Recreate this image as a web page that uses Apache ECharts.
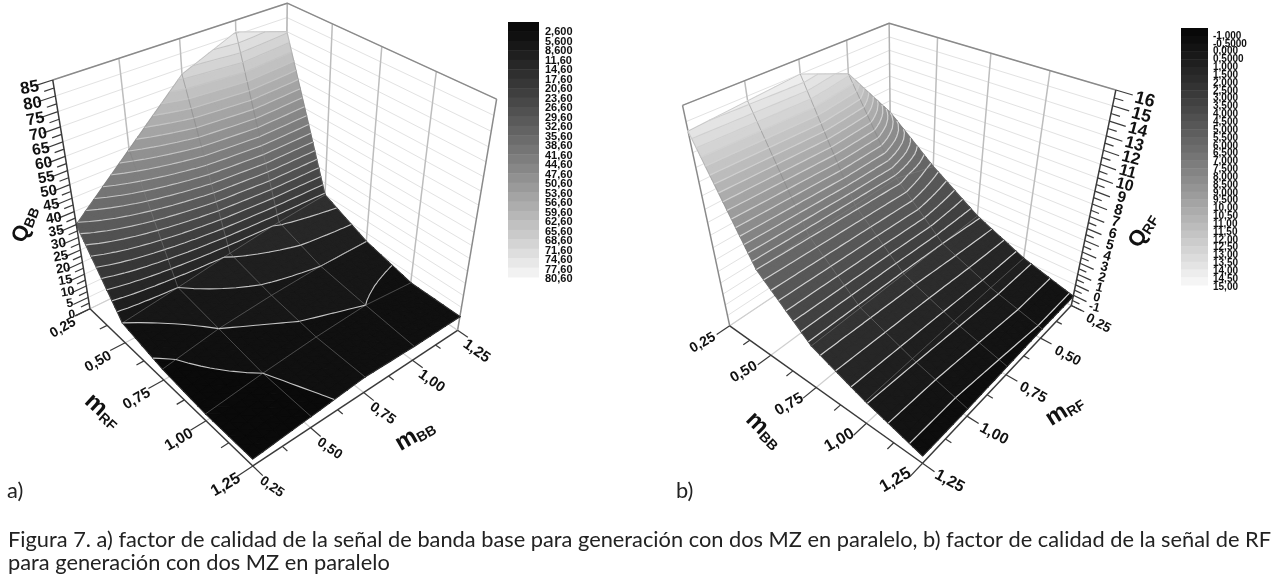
<!DOCTYPE html>
<html><head><meta charset="utf-8">
<style>html,body{margin:0;padding:0;background:#fff}#c{width:1277px;height:586px}</style>
<script src="https://cdn.jsdelivr.net/npm/echarts@6/dist/echarts.min.js"></script>
</head><body><div id="c"></div>
<script>
// ---------- data ----------
const mTickLabels = ['0,25','0,50','0,75','1,00','1,25'];
// Q_BB: rows mRF 0.25..1.25, columns mBB 0.25..1.25
const qbbRF025 = [35, 54, 73, 81, 75];
const qbbRF050 = [8.6, 11.6, 15, 18, 20];
const qbbRF075 = [4.7, 8.6, 10.5, 11.6, 11.6];
const qbbRF100 = [3, 5.6, 7.5, 8.6, 6.5];
const qbbRF125 = [3, 4.8, 6.7, 6, 6];
// Q_RF: rows mBB 0.25..1.25, columns mRF 1.25..0.25
const qrfBB025 = [14.4, 14.7, 15, 13.6, 9];
const qrfBB050 = [6.5, 6.6, 6.7, 6.8, 5.8];
const qrfBB075 = [2.8, 2.85, 2.9, 3, 3.1];
const qrfBB100 = [1.05, 1.1, 1.15, 1.2, 1.2];
const qrfBB125 = [-0.3, -0.3, -0.2, -0.1, -0.1];
const ticksQBB = [0,5,10,15,20,25,30,35,40,45,50,55,60,65,70,75,80,85];
const ticksQRF = [-1,0,1,2,3,4,5,6,7,8,9,10,11,12,13,14,15,16];
const levelsQBB = ['2,600','5,600','8,600','11,60','14,60','17,60','20,60','23,60','26,60','29,60','32,60','35,60','38,60','41,60','44,60','47,60','50,60','53,60','56,60','59,60','62,60','65,60','68,60','71,60','74,60','77,60','80,60'];
const levelsQRF = ['-1,000','-0,5000','0,000','0,5000','1,000','1,500','2,000','2,500','3,000','3,500','4,000','4,500','5,000','5,500','6,000','6,500','7,000','7,500','8,000','8,500','9,000','9,500','10,00','10,50','11,00','11,50','12,00','12,50','13,00','13,50','14,00','14,50','15,00'];
const captionLine1 = 'Figura 7. a) factor de calidad de la señal de banda base para generación con dos MZ en paralelo, b) factor de calidad de la señal de RF';
const captionLine2 = 'para generación con dos MZ en paralelo';

// ---------- 3D view calibration: [u, v, w, screenX, screenY] ----------
const viewA = [[0,0,0,88,308],[1,0,0,253,468],[1,1,0,458,330],[0,0,1,53,79],[0,1,1,287,2],[1,1,1,497,98],
 [.25,0,0,127,345],[.5,0,0,165,378],[.75,0,0,207,420],[1,.25,0,308,427],[1,.5,0,363,393],[1,.75,0,413,360],
 [0,.25,1,118,58],[0,.5,1,180,40],[0,.75,1,236,20],[.25,1,1,332,25],[.5,1,1,382,47],[.75,1,1,436,72]];
const viewB = [[0,0,0,728,326],[1,0,0,922,463],[1,1,0,1072,307],[0,0,1,682,105],[0,1,1,889,23],[1,1,1,1116,89],
 [.25,0,0,772,356],[.5,0,0,817,387],[.75,0,0,867,425],[1,.25,0,967,415],[1,.5,0,1005,375],[1,.75,0,1040,337],
 [0,.25,0,777,293],[0,.25,1,745,81],[0,.5,1,799,60],[0,.75,1,847,40],[.25,1,1,937,38],[.5,1,1,991,53],[.75,1,1,1050,71]];

function fitView(pts){
  const n=11, A=Array.from({length:n},()=>new Array(n+1).fill(0));
  const add=(r,b)=>{for(let i=0;i<n;i++){for(let j=0;j<n;j++)A[i][j]+=r[i]*r[j];A[i][n]+=r[i]*b;}};
  pts.forEach(([u,v,w,x,y])=>{x/=1000;y/=1000;
    add([u,v,w,1,0,0,0,0,-x*u,-x*v,-x*w],x);
    add([0,0,0,0,u,v,w,1,-y*u,-y*v,-y*w],y);});
  for(let c=0;c<n;c++){let p=c;for(let r=c+1;r<n;r++)if(Math.abs(A[r][c])>Math.abs(A[p][c]))p=r;
    [A[c],A[p]]=[A[p],A[c]];
    for(let r=0;r<n;r++)if(r!==c){const f=A[r][c]/A[c][c];for(let k=c;k<=n;k++)A[r][k]-=f*A[c][k];}}
  const p=A.map((r,i)=>r[n]/r[i]);
  return (u,v,w)=>{const d=p[8]*u+p[9]*v+p[10]*w+1;
    return [1000*(p[0]*u+p[1]*v+p[2]*w+p[3])/d,1000*(p[4]*u+p[5]*v+p[6]*w+p[7])/d];};
}
const num=s=>parseFloat(s.replace(',','.'));
const gray=(i,n,lo,hi)=>{const g=Math.round(lo+(hi-lo)*Math.pow(i/(n-1),1.12));return 'rgb('+g+','+g+','+g+')';};

function clipHalf(poly,lim,above){
  const out=[];
  for(let i=0;i<poly.length;i++){
    const a=poly[i],b=poly[(i+1)%poly.length];
    const da=above?a[2]-lim:lim-a[2],db=above?b[2]-lim:lim-b[2];
    if(da>=0)out.push(a);
    if(da*db<0){const t=da/(da-db);out.push([a[0]+(b[0]-a[0])*t,a[1]+(b[1]-a[1])*t,a[2]+(b[2]-a[2])*t]);}
  }
  return out;
}
// join short contour pieces that share end points into longer runs
function chain(segs){
  const key=p=>p[0].toFixed(6)+'_'+p[1].toFixed(6), runs=[], left=segs.slice();
  while(left.length){
    const run=left.pop().slice();
    let grew=true;
    while(grew){
      grew=false;
      for(let k=left.length-1;k>=0;k--){
        const s=left[k],h=key(run[0]),t=key(run[run.length-1]);
        if(key(s[0])===t){run.push(s[1]);}
        else if(key(s[1])===t){run.push(s[0]);}
        else if(key(s[0])===h){run.unshift(s[1]);}
        else if(key(s[1])===h){run.unshift(s[0]);}
        else continue;
        left.splice(k,1);grew=true;
      }
    }
    runs.push(run);
  }
  return runs;
}
const RAD=Math.PI/180, FONT='"Liberation Sans", Arial, sans-serif', SUB=6, EPS=1e-7;

function makeChart(c){
  const P=fitView(c.view), zw=q=>(q-c.zMin)/(c.zMax-c.zMin);
  const levels=c.levels.map(num), nL=levels.length;
  const line=(api,pts,stroke,lw)=>({type:'polyline',shape:{points:pts.map(p=>api.coord(p))},style:{stroke,lineWidth:lw,fill:null,lineJoin:'round'},silent:true});
  const seg=(api,a,b,stroke,lw)=>line(api,[P(...a),P(...b)],stroke,lw);
  const sc=q=>P(q[0],q[1],zw(q[2]));
  const cellTris=(i,j)=>{
    const g=c.grid,tris=[];
    const at=(s,t)=>{const q=(1-s)*(1-t)*g[i][j]+s*(1-t)*g[i+1][j]+s*t*g[i+1][j+1]+(1-s)*t*g[i][j+1];return [(i+s)/4,(j+t)/4,q];};
    for(let a=0;a<SUB;a++)for(let b=0;b<SUB;b++){
      const p00=at(a/SUB,b/SUB),p10=at((a+1)/SUB,b/SUB),p11=at((a+1)/SUB,(b+1)/SUB),p01=at(a/SUB,(b+1)/SUB);
      tris.push([p00,p10,p11],[p00,p11,p01]);
    }
    return tris;
  };

  const frame={type:'custom',coordinateSystem:'cartesian2d',silent:true,z:2,data:[[0]],renderItem:(p,api)=>{
    const ch=[];
    c.ticks.forEach(t=>{const w=zw(t);ch.push(line(api,[P(0,0,w),P(0,1,w),P(1,1,w)],'#e2e2e2',1));});
    [.25,.5,.75].forEach(f=>{
      ch.push(seg(api,[0,f,0],[0,f,1],'#bdbdbd',1.5));
      ch.push(seg(api,[f,1,0],[f,1,1],'#bdbdbd',1.5));
      ch.push(seg(api,[f,0,0],[f,1,0],'#cfcfcf',1.2));
      ch.push(seg(api,[0,f,0],[1,f,0],'#cfcfcf',1.2));
    });
    ch.push(seg(api,[0,1,0],[0,1,1],'#b0b0b0',1.5));
    ch.push(line(api,[P(0,0,1),P(0,1,1),P(1,1,1)],'#8a8a8a',1.5));
    ch.push(seg(api,c.grayEdge[0],c.grayEdge[1],'#8a8a8a',1.5));
    ch.push(seg(api,[0,1,0],[1,1,0],'#cfcfcf',1.2));
    ch.push(seg(api,[0,0,0],[0,1,0],'#cfcfcf',1.2));
    return {type:'group',children:ch};
  },clip:false};

  const cells=[];
  for(let i=0;i<4;i++)for(let j=3;j>=0;j--)cells.push([i,j]);
  const surface={type:'custom',coordinateSystem:'cartesian2d',silent:true,z:3,data:cells,clip:false,renderItem:(p,api)=>{
    const ch=[];
    cellTris(api.value(0),api.value(1)).forEach(tri=>{
      const lo=Math.min(tri[0][2],tri[1][2],tri[2][2]),hi=Math.max(tri[0][2],tri[1][2],tri[2][2]);
      for(let b=0;b<nL;b++){
        if(b<nL-1&&levels[b+1]<lo)continue;
        if(b>0&&levels[b]>hi)continue;
        let poly=tri;
        if(b>0)poly=clipHalf(poly,levels[b],true);
        if(b<nL-1&&poly.length)poly=clipHalf(poly,levels[b+1],false);
        if(poly.length>2){
          const col=gray(b,nL,c.grayLo,c.grayHi);
          ch.push({type:'polygon',shape:{points:poly.map(q=>api.coord(sc(q)))},style:{fill:col,stroke:col,lineWidth:1.3,lineJoin:'round'},silent:true});
        }
      }
    });
    return {type:'group',children:ch};
  }};
  const contours={type:'custom',coordinateSystem:'cartesian2d',silent:true,z:4,data:cells,clip:false,renderItem:(p,api)=>{
    const i=api.value(0),j=api.value(1),g=c.grid,ch=[];
    const corner=(a,b)=>[a/4,b/4,g[a][b]];
    const cs=[corner(i,j),corner(i+1,j),corner(i+1,j+1),corner(i,j+1)];
    for(let t=0;t<4;t++)ch.push(line(api,[sc(cs[t]),sc(cs[(t+1)%4])],'rgba(130,130,130,0.3)',1));
    const tris=cellTris(i,j);
    levels.forEach(l0=>{
      const l=l0+EPS,segs=[];
      tris.forEach(tri=>{
        const hits=[];
        for(let e=0;e<3;e++){const a=tri[e],b=tri[(e+1)%3];
          if((a[2]-l)*(b[2]-l)<0){const s=(l-a[2])/(b[2]-a[2]);hits.push([a[0]+(b[0]-a[0])*s,a[1]+(b[1]-a[1])*s,l]);}}
        if(hits.length===2)segs.push(hits);
      });
      chain(segs).forEach(run=>ch.push(line(api,run.map(sc),c.contour,c.contourW)));
    });
    return {type:'group',children:ch};
  }};

  const axes={type:'custom',coordinateSystem:'cartesian2d',silent:true,z:5,data:[[0]],clip:false,renderItem:(p,api)=>{
    const ch=[],dark='#3a3a3a';
    const txt=(s,pos,size,rot,extra)=>({type:'text',x:pos[0],y:pos[1],rotation:rot*RAD,silent:true,
      style:Object.assign({text:s,fontFamily:FONT,fontWeight:'bold',fontSize:size,fill:'#111',align:'center',verticalAlign:'middle'},extra||{})});
    const off=(q,d)=>{const s=api.coord(q);return [s[0]+d[0],s[1]+d[1]];};
    ch.push(seg(api,[0,0,0],[1,0,0],dark,1.5));
    ch.push(seg(api,[1,0,0],[1,1,0],dark,1.5));
    ch.push(seg(api,c.zAxisAt(0),c.zAxisAt(1),dark,1.5));
    for(let k=0;k<=8;k++){const f=k/8,len=k%2?.5:1;
      ch.push(seg(api,[f,0,0],[f,-.065*len,0],dark,1.2));
      ch.push(seg(api,[1,f,0],[1+.05*len,f,0],dark,1.2));
    }
    c.ticks.forEach((t,idx)=>{
      const a=c.zAxisAt(zw(t));
      ch.push(seg(api,a,c.zTick(a,1),dark,1.2));
      if(idx<c.ticks.length-1){const m=c.zAxisAt(zw((t+c.ticks[idx+1])/2));ch.push(seg(api,m,c.zTick(m,.55),dark,1.2));}
      const fs=c.zFont[0]+(c.zFont[1]-c.zFont[0])*idx/(c.ticks.length-1);
      ch.push(txt(String(t),off(P(...a),c.zOff(idx/(c.ticks.length-1))),fs,c.zRot));
    });
    mTickLabels.forEach((s,k)=>{
      const f=k/4;
      ch.push(txt(c.uLabel(s,k),off(P(f,0,0),c.uOff),c.uFont[0]+(c.uFont[1]-c.uFont[0])*f,c.uRot));
      const lab=c.vLabel(s,k);
      ch.push(txt(lab,off(P(1,f,0),c.vOff),c.vFont[0]+(c.vFont[1]-c.vFont[0])*f,c.vRot));
    });
    c.titles.forEach(t=>{
      ch.push(txt('{m|'+t.big+'}{s|'+t.sub+'}',off(P(...t.at),t.off),24,t.rot,{rich:{
        m:{fontFamily:FONT,fontSize:t.bigSize,fontWeight:'bold',fill:'#111',verticalAlign:'bottom',lineHeight:t.bigSize+6},
        s:{fontFamily:FONT,fontSize:t.subSize,fontWeight:'bold',fill:'#111',verticalAlign:'bottom',lineHeight:t.subSize}}}));
    });
    return {type:'group',children:ch};
  }};

  const legend={type:'custom',coordinateSystem:'cartesian2d',silent:true,z:5,clip:false,data:c.levels.map((s,i)=>[i]),renderItem:(p,api)=>{
    const i=api.value(0),L=c.legend,h=L.h/nL,col=gray(i,nL,c.grayLo,c.grayHi);
    const a=api.coord([L.x,L.y+i*h]),b=api.coord([L.x+L.w,L.y+(i+1)*h]);
    const ty=api.coord([L.tx,L.ty+i*L.dy]);
    return {type:'group',children:[
      {type:'rect',shape:{x:a[0],y:a[1],width:b[0]-a[0],height:b[1]-a[1]+.5},style:{fill:col},silent:true},
      {type:'text',x:ty[0],y:ty[1],silent:true,style:{text:c.levels[i],fontFamily:FONT,fontWeight:'bold',fontSize:L.fs,fill:'#111',align:'left',verticalAlign:'middle'}}
    ]};
  }};
  return [frame,surface,contours,axes,legend];
}

const chartA={view:viewA,zMin:0,zMax:85,ticks:ticksQBB,levels:levelsQBB,grid:[qbbRF025,qbbRF050,qbbRF075,qbbRF100,qbbRF125],
  grayLo:10,grayHi:242,contour:'#c4c4c4',contourW:1.1,
  grayEdge:[[1,1,0],[1,1,1]],zAxisAt:w=>[0,0,w],zTick:(a,l)=>[0,-.065*l,a[2]],
  zFont:[12,17],zRot:10,zOff:f=>[-18-5*f,6+2*f],
  uLabel:s=>s,vLabel:s=>s,uOff:[-27,19],vOff:[19,21],uFont:[14,16],vFont:[13.5,15],uRot:30,vRot:-35,
  titles:[{big:'m',sub:'RF',at:[.5,0,0],off:[-59,29],rot:-42,bigSize:24,subSize:14},
          {big:'m',sub:'BB',at:[1,.5,0],off:[50,40],rot:30,bigSize:24,subSize:14},
          {big:'Q',sub:'BB',at:[0,0,.4],off:[-54,-4],rot:68,bigSize:22,subSize:14}],
  legend:{x:508,y:22,w:31,h:255,tx:545,ty:32,dy:9.5,fs:11}};
const chartB={view:viewB,zMin:-1,zMax:16,ticks:ticksQRF,levels:levelsQRF,grid:[qrfBB025,qrfBB050,qrfBB075,qrfBB100,qrfBB125],
  grayLo:8,grayHi:245,contour:'#d0d0d0',contourW:1.2,
  grayEdge:[[0,0,0],[0,0,1]],zAxisAt:w=>[1,1,w],zTick:(a,l)=>[1+.06*l,1,a[2]],
  zFont:[12,18],zRot:-15,zOff:f=>[23+6*f,2+8*f],
  uLabel:s=>s,vLabel:(s,k)=>mTickLabels[4-k],uOff:[-27,17],vOff:[27,18],uFont:[14,17],vFont:[16,13.5],uRot:30,vRot:-28,
  titles:[{big:'m',sub:'BB',at:[.5,0,0],off:[-50,41],rot:-45,bigSize:24,subSize:14},
          {big:'m',sub:'RF',at:[1,.5,0],off:[57,33],rot:32,bigSize:24,subSize:14},
          {big:'Q',sub:'RF',at:[1,1,.4],off:[54,-2],rot:58,bigSize:22,subSize:14}],
  legend:{x:1181,y:28,w:27,h:257,tx:1213,ty:36,dy:7.84,fs:10}};

const capFont='21.8px Lato, "Open Sans", sans-serif';
const txt=(s,x,y)=>({type:'text',x,y,z:100,silent:true,style:{text:s,font:capFont,fill:'#222',verticalAlign:'middle'}});
const chart=echarts.init(document.getElementById('c'),null,{renderer:'canvas'});
chart.setOption({
  animation:false,backgroundColor:'#fff',
  grid:{left:0,right:0,top:0,bottom:0},
  xAxis:{type:'value',min:0,max:1277,show:false},
  yAxis:{type:'value',min:0,max:586,inverse:true,show:false},
  series:[...makeChart(chartA),...makeChart(chartB)],
  graphic:{elements:[
    {type:'rect',z:90,silent:true,shape:{x:190,y:499,width:110,height:20},style:{fill:'#fff'}},
    txt('a)',7,491),txt('b)',676,491),txt(captionLine1,8,540),txt(captionLine2,8,563)
  ]}
});
</script></body></html>
